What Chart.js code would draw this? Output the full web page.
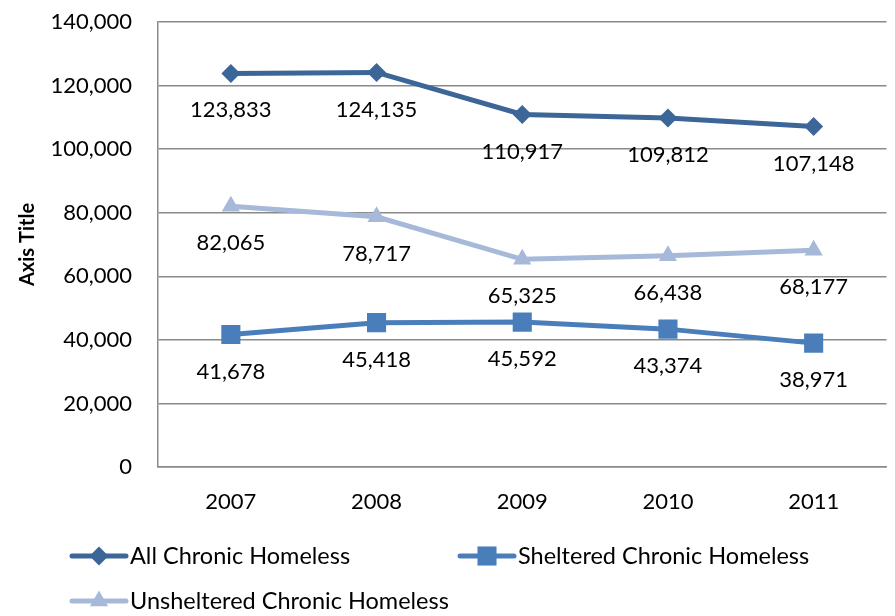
<!DOCTYPE html>
<html>
<head>
<meta charset="utf-8">
<script src="https://cdn.jsdelivr.net/npm/chart.js@4/dist/chart.umd.min.js"></script>
<style>
  html, body { margin: 0; padding: 0; background: #fff; overflow: hidden; }
  canvas { display: block; }
</style>
</head>
<body>
<canvas id="homelessChart" width="900" height="616"></canvas>
<script>
// Chronic homeless counts by year
const years = ['2007', '2008', '2009', '2010', '2011'];
const allChronic = [123833, 124135, 110917, 109812, 107148];
const sheltered = [41678, 45418, 45592, 43374, 38971];
const unsheltered = [82065, 78717, 65325, 66438, 68177];
const yTicks = [0, 20000, 40000, 60000, 80000, 100000, 120000, 140000];

const FONT = 'Lato, "Open Sans", sans-serif';
const GRID = '#8a8a8a';

const seriesDefs = [
    { label: 'All Chronic Homeless', data: allChronic, color: '#3c6698', style: 'rectRot', radius: 9.5 },
    { label: 'Sheltered Chronic Homeless', data: sheltered, color: '#4a7ebb', style: 'rect', radius: 13.5 },
    { label: 'Unsheltered Chronic Homeless', data: unsheltered, color: '#a6b9d9', style: 'triangle', radius: 10.5 }
];

// value labels under every point
const pointLabels = {
    id: 'pointLabels',
    afterDatasetsDraw(chart) {
        const ctx = chart.ctx;
        ctx.save();
        ctx.font = '22px ' + FONT;
        ctx.fillStyle = '#000';
        ctx.textAlign = 'center';
        ctx.textBaseline = 'middle';
        chart.data.datasets.forEach((ds, i) => {
            chart.getDatasetMeta(i).data.forEach((pt, j) => {
                ctx.fillText(ds.data[j].toLocaleString('en-US'), pt.x, pt.y + 37);
            });
        });
        ctx.restore();
    }
};

// legend drawn in two rows at the bottom
const bottomLegend = {
    id: 'bottomLegend',
    afterDraw(chart) {
        const ctx = chart.ctx;
        const spots = [{ x: 72, y: 556 }, { x: 460, y: 556 }, { x: 72, y: 601 }];
        ctx.save();
        chart.data.datasets.forEach((ds, i) => {
            const s = spots[i];
            ctx.strokeStyle = ds.borderColor;
            ctx.lineWidth = 5;
            ctx.lineCap = 'round';
            ctx.beginPath();
            ctx.moveTo(s.x, s.y);
            ctx.lineTo(s.x + 54, s.y);
            ctx.stroke();
            ctx.fillStyle = ds.backgroundColor;
            Chart.helpers.drawPoint(ctx, {
                pointStyle: ds.pointStyle, radius: ds.pointRadius, borderWidth: 0, rotation: 0
            }, s.x + 27, s.y);
            ctx.fillStyle = '#000';
            ctx.font = '23.5px ' + FONT;
            ctx.textAlign = 'left';
            ctx.textBaseline = 'middle';
            ctx.fillText(ds.label, s.x + 58, s.y);
        });
        ctx.restore();
    }
};

new Chart(document.getElementById('homelessChart'), {
    type: 'line',
    data: {
        labels: years,
        datasets: seriesDefs.map(s => ({
            label: s.label,
            data: s.data,
            borderColor: s.color,
            backgroundColor: s.color,
            borderWidth: 5,
            pointStyle: s.style,
            pointRadius: s.radius,
            pointBorderWidth: 0,
            tension: 0
        }))
    },
    options: {
        responsive: false,
        animation: false,
        layout: { padding: { top: 22, right: 0, left: 0, bottom: 0 } },
        plugins: { legend: { display: false }, tooltip: { enabled: false } },
        scales: {
            x: {
                offset: true,
                grid: { display: false, drawTicks: false },
                border: { color: GRID, width: 1.5 },
                ticks: { color: '#000', padding: 22, font: { family: FONT, size: 22 } },
                afterFit(scale) { scale.height = 149; }
            },
            y: {
                min: 0,
                max: 140000,
                afterBuildTicks(scale) { scale.ticks = yTicks.map(v => ({ value: v })); },
                // invisible tick marks keep the labels away from the axis line
                grid: { color: GRID, lineWidth: 1.5, drawTicks: true, tickLength: 22, tickColor: 'rgba(0,0,0,0)' },
                border: { color: GRID, width: 1.5 },
                ticks: {
                    color: '#000',
                    padding: 4,
                    font: { family: FONT, size: 22 },
                    callback: v => v.toLocaleString('en-US')
                },
                title: {
                    display: true,
                    text: 'Axis Title',
                    color: '#000',
                    padding: { top: 16, bottom: 0 },
                    font: { family: FONT, size: 20, weight: 'bold' }
                },
                afterFit(scale) { scale.width = 158; }
            }
        }
    },
    plugins: [pointLabels, bottomLegend]
});
</script>
</body>
</html>
